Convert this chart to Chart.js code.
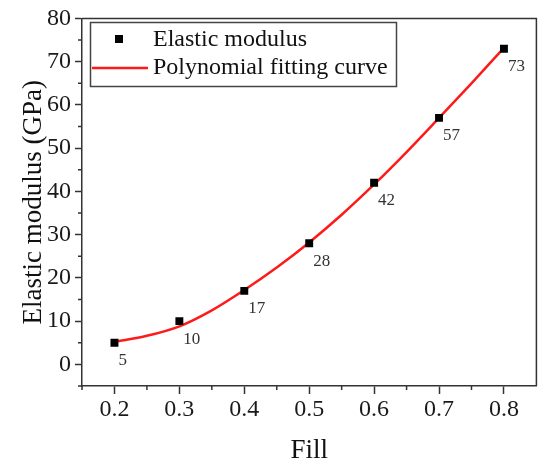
<!DOCTYPE html>
<html>
<head>
<meta charset="utf-8">
<script src="https://cdn.jsdelivr.net/npm/chart.js@4.4.1/dist/chart.umd.min.js"></script>
<style>
  html, body { margin: 0; padding: 0; background: #fff; }
  canvas { display: block; }
</style>
</head>
<body>
<canvas id="chart" width="542" height="463"></canvas>
<script>
// Measured points
const fill = [0.2, 0.3, 0.4, 0.5, 0.6, 0.7, 0.8];
const modulus = [5, 10, 17, 28, 42, 57, 73];
// Fitting curve, every 0.05
const fitFill = [0.2, 0.25, 0.3, 0.35, 0.4, 0.45, 0.5, 0.55, 0.6, 0.65, 0.7, 0.75, 0.8];
const fitModulus = [5.2, 6.6, 8.8, 12.5, 17.2, 22.4, 28.2, 34.6, 41.6, 49.1, 57.0, 65.0, 73.2];
// Tick values
const xTicks = [0.2, 0.3, 0.4, 0.5, 0.6, 0.7, 0.8];
const xMinor = [0.15, 0.25, 0.35, 0.45, 0.55, 0.65, 0.75];
const yTicks = [0, 10, 20, 30, 40, 50, 60, 70, 80];
const yMinor = [-5, 5, 15, 25, 35, 45, 55, 65, 75];

const serif = "'Liberation Serif', 'Times New Roman', serif";
const axisColor = "#333";

// Draws top/right frame, minor ticks, point labels and the legend box
const extras = {
  id: "extras",
  afterDraw(chart) {
    const ctx = chart.ctx;
    const a = chart.chartArea;
    const xs = chart.scales.x;
    const ys = chart.scales.y;
    ctx.save();
    ctx.strokeStyle = axisColor;
    ctx.lineWidth = 1.5;
    ctx.beginPath();
    ctx.moveTo(a.left, a.top);
    ctx.lineTo(a.right, a.top);
    ctx.lineTo(a.right, a.bottom);
    ctx.stroke();
    // minor ticks
    ctx.beginPath();
    xMinor.forEach((v) => {
      const px = xs.getPixelForValue(v);
      ctx.moveTo(px, a.bottom);
      ctx.lineTo(px, a.bottom + 4);
    });
    yMinor.forEach((v) => {
      const py = ys.getPixelForValue(v);
      ctx.moveTo(a.left, py);
      ctx.lineTo(a.left - 4, py);
    });
    ctx.stroke();

    // value labels under each point
    const meta = chart.getDatasetMeta(0);
    ctx.fillStyle = "#333";
    ctx.font = "17px " + serif;
    ctx.textAlign = "left";
    ctx.textBaseline = "middle";
    meta.data.forEach((pt, i) => {
      ctx.fillText(String(modulus[i]), pt.x + 4, pt.y + 18);
    });

    // legend
    const ds = chart.data.datasets;
    ctx.strokeStyle = "#444";
    ctx.lineWidth = 1.5;
    ctx.strokeRect(90.5, 22.5, 306, 64);
    ctx.fillStyle = "#000";
    ctx.fillRect(115, 35, 8, 8);
    ctx.strokeStyle = ds[1].borderColor;
    ctx.lineWidth = 2.5;
    ctx.beginPath();
    ctx.moveTo(92, 68);
    ctx.lineTo(148, 68);
    ctx.stroke();
    ctx.fillStyle = "#111";
    ctx.font = "24px " + serif;
    ctx.fillText(ds[0].label, 153, 40);
    ctx.fillText(ds[1].label, 153, 68);
    ctx.restore();
  },
};

const tickFont = { family: serif, size: 24 };

new Chart(document.getElementById("chart"), {
  type: "scatter",
  plugins: [extras],
  data: {
    datasets: [
      {
        label: "Elastic modulus",
        data: fill.map((x, i) => ({ x: x, y: modulus[i] })),
        pointStyle: "rect",
        pointRadius: 5.6,
        pointBorderWidth: 0,
        backgroundColor: "#000",
        borderColor: "#000",
      },
      {
        label: "Polynomial fitting curve",
        data: fitFill.map((x, i) => ({ x: x, y: fitModulus[i] })),
        showLine: true,
        pointRadius: 0,
        borderColor: "#ff1a1a",
        borderWidth: 2.5,
        tension: 0.4,
        cubicInterpolationMode: "monotone",
      },
    ],
  },
  options: {
    responsive: false,
    animation: false,
    layout: { padding: { top: 15, right: 1, left: 0, bottom: 0 } },
    plugins: {
      legend: { display: false },
      tooltip: { enabled: false },
    },
    scales: {
      x: {
        type: "linear",
        min: 0.15,
        max: 0.85,
        afterBuildTicks: (s) => {
          s.ticks = xTicks.map((v) => ({ value: v }));
        },
        afterFit: (s) => {
          s.height = 77;
        },
        ticks: {
          callback: (v) => v.toFixed(1),
          font: tickFont,
          color: "#1a1a1a",
          padding: 1,
          maxRotation: 0,
          autoSkip: false,
        },
        grid: {
          drawOnChartArea: false,
          tickLength: 8,
          tickWidth: 1.5,
          tickColor: axisColor,
        },
        border: { color: axisColor, width: 1.5 },
        title: {
          display: true,
          text: "Fill",
          color: "#111",
          font: { family: serif, size: 27, lineHeight: 1 },
          padding: { top: 0, bottom: -1 },
        },
      },
      y: {
        min: -5,
        max: 80,
        afterBuildTicks: (s) => {
          s.ticks = yTicks.map((v) => ({ value: v }));
        },
        afterFit: (s) => {
          s.width = 82;
        },
        ticks: {
          font: tickFont,
          color: "#1a1a1a",
          padding: 4,
        },
        grid: {
          drawOnChartArea: false,
          tickLength: 7,
          tickWidth: 1.5,
          tickColor: axisColor,
        },
        border: { color: axisColor, width: 1.5 },
        title: {
          display: true,
          text: "Elastic modulus (GPa)",
          color: "#111",
          font: { family: serif, size: 27, lineHeight: 1 },
          padding: { top: 20, bottom: 0 },
        },
      },
    },
  },
});
</script>
</body>
</html>
